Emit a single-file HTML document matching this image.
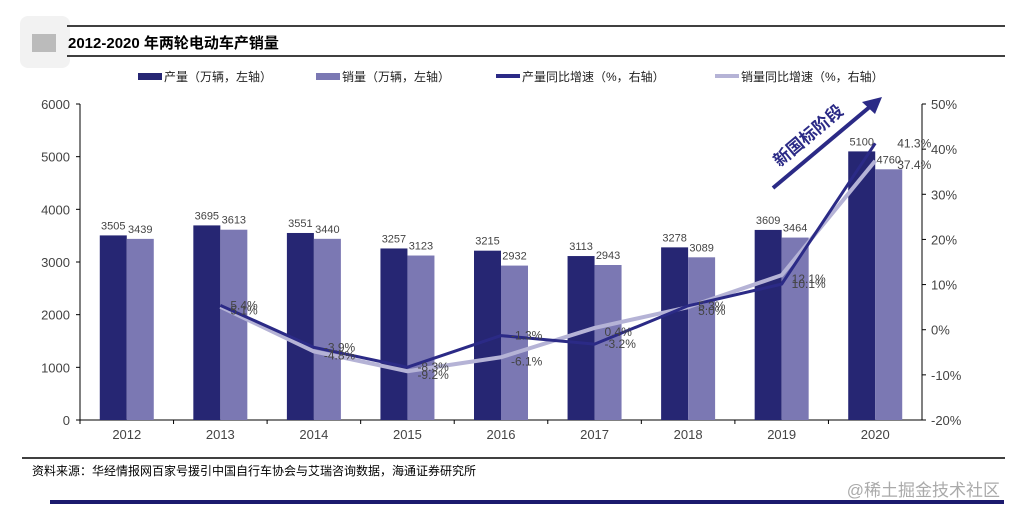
<!DOCTYPE html>
<html><head><meta charset="utf-8">
<style>
body{margin:0;background:#fff;width:1014px;height:516px;overflow:hidden;font-family:"Liberation Sans","Noto Sans CJK SC",sans-serif;}
svg{display:block}
</style></head><body>
<svg id="chart" width="1014" height="516">
<rect x="20" y="16" width="50" height="52" fill="#f2f2f2" rx="8"/>
<rect x="32" y="34" width="24" height="18" fill="#bbb"/>
<line x1="67" y1="26" x2="1005" y2="26" stroke="#000" stroke-width="1.5"/>
<line x1="67" y1="56" x2="1005" y2="56" stroke="#000" stroke-width="1.5"/>
<text x="68" y="48" font-size="15" font-weight="bold" fill="#000">2012-2020 年两轮电动车产销量</text>
<g font-size="12" fill="#222">
<g><rect x="138" y="73" width="24" height="7" fill="#262673"/><text x="164" y="81">产量（万辆，左轴）</text></g>
<g><rect x="316" y="73" width="24" height="7" fill="#7b78b3"/><text x="342" y="81">销量（万辆，左轴）</text></g>
<g><rect x="496" y="74" width="24" height="4" fill="#2b2a86"/><text x="522" y="81">产量同比增速（%，右轴）</text></g>
<g><rect x="715" y="74" width="24" height="4" fill="#b5b3d6"/><text x="741" y="81">销量同比增速（%，右轴）</text></g>
</g>
<g id="plot"></g>
<line x1="22" y1="458" x2="1005" y2="458" stroke="#000" stroke-width="1.5"/>
<text x="32" y="475" font-size="12" fill="#000">资料来源：华经情报网百家号援引中国自行车协会与艾瑞咨询数据，海通证券研究所</text>
<text x="1000" y="496" font-size="17" fill="#aaa" text-anchor="end">@稀土掘金技术社区</text>
<rect x="50" y="500" width="954" height="4" fill="#1c1a6e"/>
</svg>
<script>
const categories=["2012","2013","2014","2015","2016","2017","2018","2019","2020"];
const production=[3505,3695,3551,3257,3215,3113,3278,3609,5100];
const sales=[3439,3613,3440,3123,2932,2943,3089,3464,4760];
const prodGrowth=[null,5.4,-3.9,-8.3,-1.3,-3.2,5.3,10.1,41.3];
const salesGrowth=[null,5.1,-4.8,-9.2,-6.1,0.4,5.0,12.1,37.4];
const leftTicks=[0,1000,2000,3000,4000,5000,6000];
const rightTicks=[-20,-10,0,10,20,30,40,50];

const NS="http://www.w3.org/2000/svg";
const g=document.getElementById('plot');
const X0=80,X1=922,Y0=420,Y1=104;
const step=(X1-X0)/categories.length;
const xc=i=>X0+step*(i+0.5);
const yL=v=>Y0-(v/6000)*(Y0-Y1);
const yR=v=>Y0-((v+20)/70)*(Y0-Y1);
function mk(t,a,parent){const e=document.createElementNS(NS,t);for(const k in a)e.setAttribute(k,a[k]);(parent||g).appendChild(e);return e;}

// axes
let ax=mk('line',{x1:X0,y1:Y0,x2:X1,y2:Y0,stroke:'#000'});


let la=mk('line',{x1:X0,y1:Y1,x2:X0,y2:Y0,stroke:'#000'});


let ra=mk('line',{x1:X1,y1:Y1,x2:X1,y2:Y0,stroke:'#000'});


leftTicks.forEach(v=>{
  mk('line',{x1:X0-4,y1:yL(v),x2:X0,y2:yL(v),stroke:'#000'});
  const t=mk('text',{x:X0-10,y:yL(v)+5,'font-size':13,fill:'#444','text-anchor':'end'});
  t.textContent=v;
  
  
});
rightTicks.forEach(v=>{
  mk('line',{x1:X1,y1:yR(v),x2:X1+4,y2:yR(v),stroke:'#000'});
  const t=mk('text',{x:X1+9,y:yR(v)+5,'font-size':13,fill:'#444'});
  t.textContent=v+'%';
  
  
});
categories.forEach((c,i)=>{
  mk('line',{x1:X0+step*i,y1:Y0,x2:X0+step*i,y2:Y0+4,stroke:'#000'});
  const t=mk('text',{x:xc(i),y:Y0+19,'font-size':13,fill:'#444','text-anchor':'middle'});
  t.textContent=c;
  
  
});
// bars
const bw=27;
categories.forEach((c,i)=>{
  const b1=mk('rect',{x:xc(i)-bw,y:yL(production[i]),width:bw,height:Y0-yL(production[i]),fill:'#262673'});
  
  
  const b2=mk('rect',{x:xc(i),y:yL(sales[i]),width:bw,height:Y0-yL(sales[i]),fill:'#7b78b3'});
  
  
  const t1=mk('text',{x:xc(i)-bw/2,y:yL(production[i])-6,'font-size':11,fill:'#444','text-anchor':'middle'});
  t1.textContent=production[i];
  
  
  const t2=mk('text',{x:xc(i)+bw/2,y:yL(sales[i])-6,'font-size':11,fill:'#444','text-anchor':'middle'});
  t2.textContent=sales[i];
  
  
});
// lines
function line(arr,color,name,w){
  const pts=[];arr.forEach((v,i)=>{if(v!==null)pts.push(xc(i)+','+yR(v));});
  const p=mk('polyline',{points:pts.join(' '),fill:'none',stroke:color,'stroke-width':w,'stroke-linejoin':'round'});
  
  
}
line(salesGrowth,'#b5b3d6','line-sales-growth',4);
line(prodGrowth,'#2b2a86','line-production-growth',3);
function labels(arr,dy,name){
  arr.forEach((v,i)=>{if(v===null)return;
    const last=i===arr.length-1;
    const t=mk('text',{x:xc(i)+(last?22:10),y:yR(v)+dy,'font-size':12,fill:'#444','text-anchor':last?'start':'start'});
    t.textContent=v.toFixed(1)+'%';
    
    
  });
}
labels(prodGrowth,4,'production-growth-label');
labels(salesGrowth,8,'sales-growth-label');
// arrow annotation
const ar=mk('line',{x1:773,y1:188,x2:872,y2:105,stroke:'#2b2a86','stroke-width':4});


const ah=mk('polygon',{points:'882,97 862,102 875,114',fill:'#2b2a86'});


const at=mk('text',{x:0,y:0,'font-size':17,'font-weight':'bold',fill:'#2b2a86','text-anchor':'middle',transform:'translate(812,140) rotate(-40)'});
at.textContent='新国标阶段';


</script>
</body></html>
